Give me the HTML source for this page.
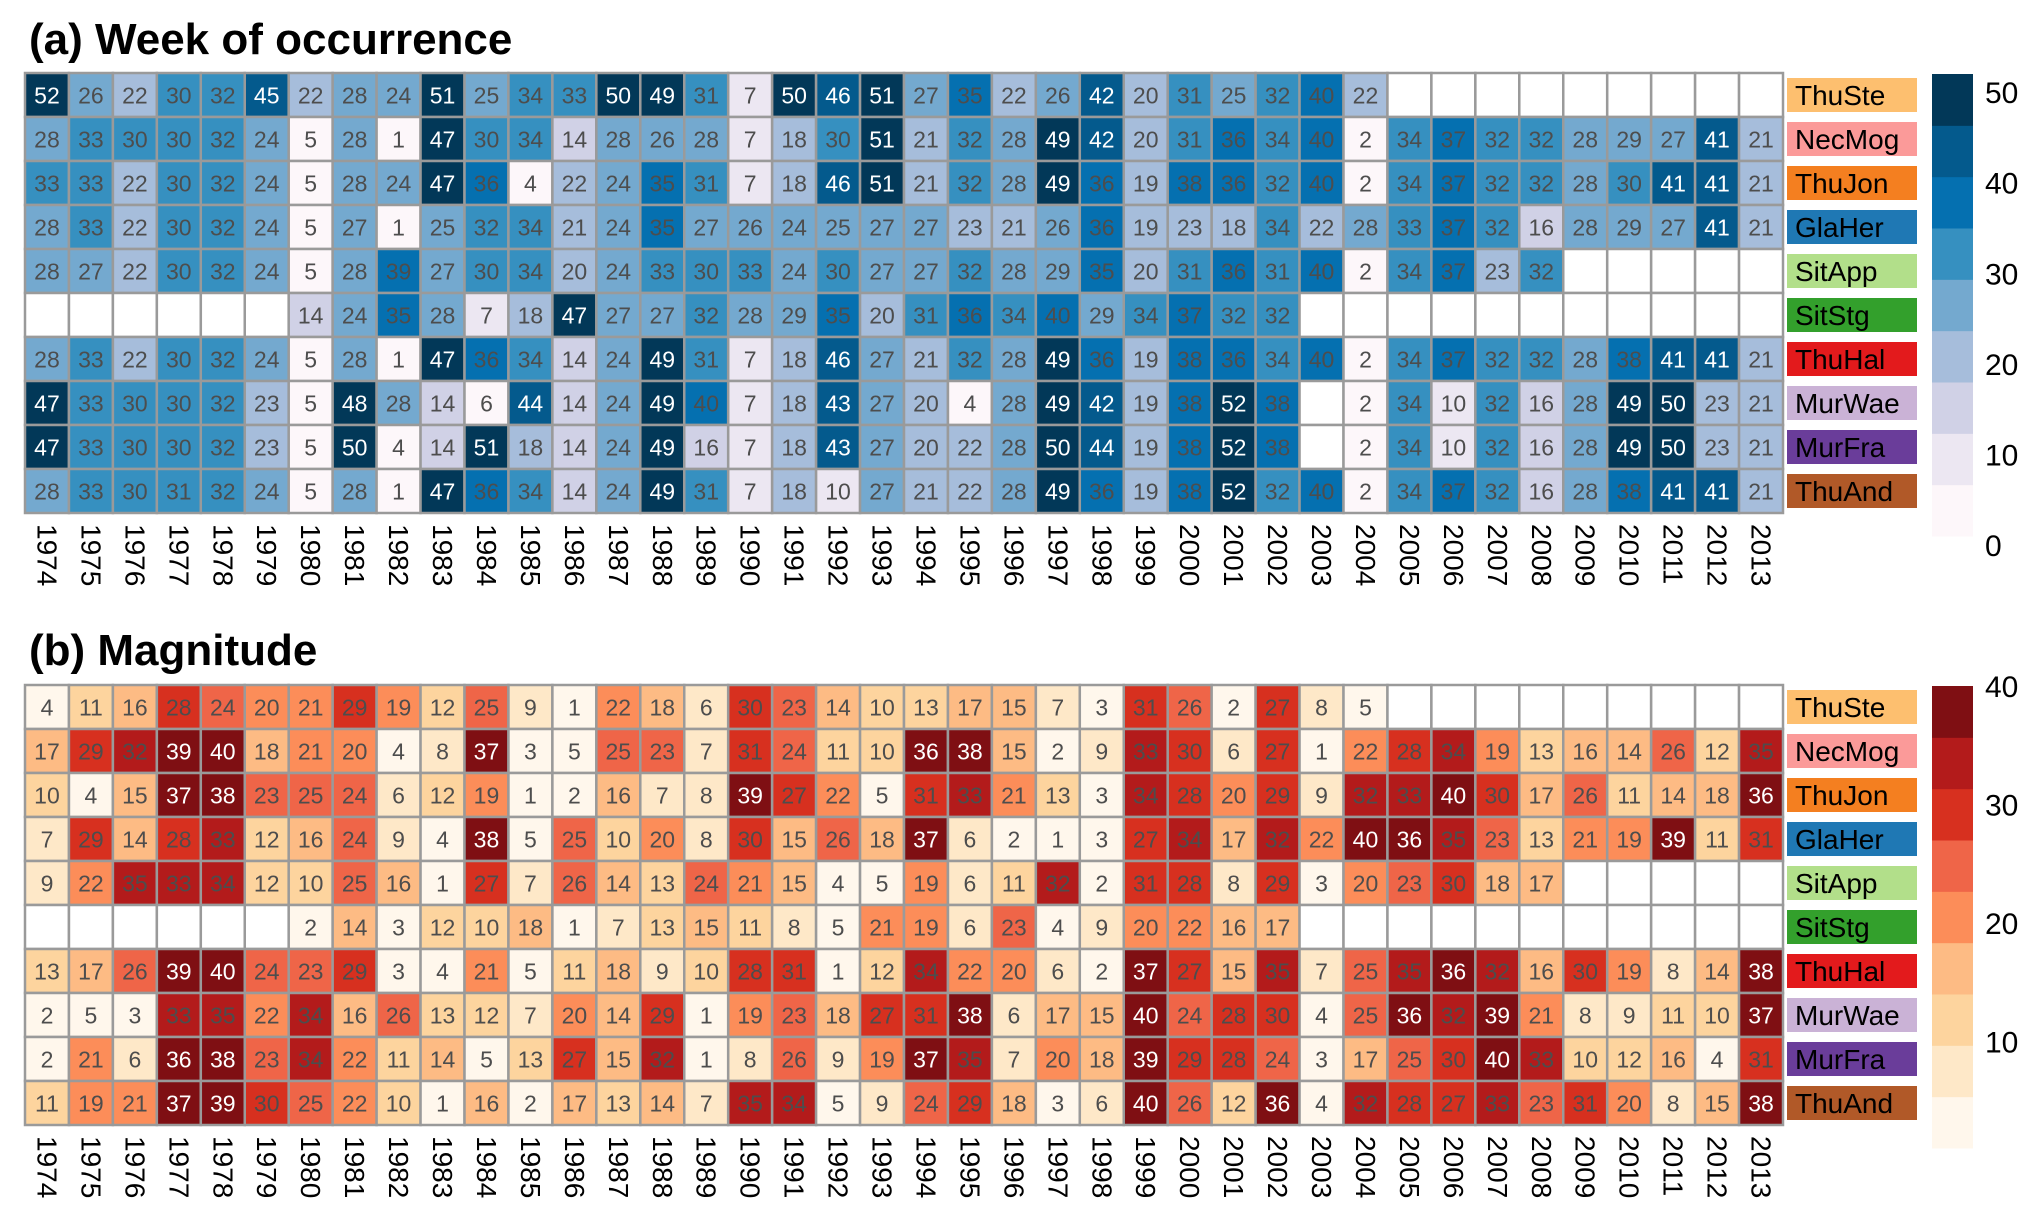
<!DOCTYPE html>
<html><head><meta charset="utf-8"><style>
html,body{margin:0;padding:0;background:#fff;}
svg{display:block;font-family:"Liberation Sans",Arial,sans-serif;}
</style></head><body>
<svg id="chart" width="2033" height="1228" viewBox="0 0 2033 1228" xmlns="http://www.w3.org/2000/svg">
<text x="29" y="54" font-size="44" font-weight="bold">(a) Week of occurrence</text>
<text x="29" y="665" font-size="44" font-weight="bold">(b) Magnitude</text>
</svg>
<script>
const years = [];
for (let y = 1974; y <= 2013; y++) years.push(y);
const stations = ["ThuSte","NecMog","ThuJon","GlaHer","SitApp","SitStg","ThuHal","MurWae","MurFra","ThuAnd"];
const stationColors = ["#fdbf6f","#fb9a99","#f47f20","#1f78b4","#b2df8a","#33a02c","#e31a1c","#cab2d6","#6a3d9a","#b15928"];
const N = null;
const weekThuSte = [52,26,22,30,32,45,22,28,24,51,25,34,33,50,49,31,7,50,46,51,27,35,22,26,42,20,31,25,32,40,22,N,N,N,N,N,N,N,N,N];
const weekNecMog = [28,33,30,30,32,24,5,28,1,47,30,34,14,28,26,28,7,18,30,51,21,32,28,49,42,20,31,36,34,40,2,34,37,32,32,28,29,27,41,21];
const weekThuJon = [33,33,22,30,32,24,5,28,24,47,36,4,22,24,35,31,7,18,46,51,21,32,28,49,36,19,38,36,32,40,2,34,37,32,32,28,30,41,41,21];
const weekGlaHer = [28,33,22,30,32,24,5,27,1,25,32,34,21,24,35,27,26,24,25,27,27,23,21,26,36,19,23,18,34,22,28,33,37,32,16,28,29,27,41,21];
const weekSitApp = [28,27,22,30,32,24,5,28,39,27,30,34,20,24,33,30,33,24,30,27,27,32,28,29,35,20,31,36,31,40,2,34,37,23,32,N,N,N,N,N];
const weekSitStg = [N,N,N,N,N,N,14,24,35,28,7,18,47,27,27,32,28,29,35,20,31,36,34,40,29,34,37,32,32,N,N,N,N,N,N,N,N,N,N,N];
const weekThuHal = [28,33,22,30,32,24,5,28,1,47,36,34,14,24,49,31,7,18,46,27,21,32,28,49,36,19,38,36,34,40,2,34,37,32,32,28,38,41,41,21];
const weekMurWae = [47,33,30,30,32,23,5,48,28,14,6,44,14,24,49,40,7,18,43,27,20,4,28,49,42,19,38,52,38,N,2,34,10,32,16,28,49,50,23,21];
const weekMurFra = [47,33,30,30,32,23,5,50,4,14,51,18,14,24,49,16,7,18,43,27,20,22,28,50,44,19,38,52,38,N,2,34,10,32,16,28,49,50,23,21];
const weekThuAnd = [28,33,30,31,32,24,5,28,1,47,36,34,14,24,49,31,7,18,10,27,21,22,28,49,36,19,38,52,32,40,2,34,37,32,16,28,38,41,41,21];
const magThuSte = [4,11,16,28,24,20,21,29,19,12,25,9,1,22,18,6,30,23,14,10,13,17,15,7,3,31,26,2,27,8,5,N,N,N,N,N,N,N,N,N];
const magNecMog = [17,29,32,39,40,18,21,20,4,8,37,3,5,25,23,7,31,24,11,10,36,38,15,2,9,33,30,6,27,1,22,28,34,19,13,16,14,26,12,35];
const magThuJon = [10,4,15,37,38,23,25,24,6,12,19,1,2,16,7,8,39,27,22,5,31,33,21,13,3,34,28,20,29,9,32,33,40,30,17,26,11,14,18,36];
const magGlaHer = [7,29,14,28,33,12,16,24,9,4,38,5,25,10,20,8,30,15,26,18,37,6,2,1,3,27,34,17,32,22,40,36,35,23,13,21,19,39,11,31];
const magSitApp = [9,22,35,33,34,12,10,25,16,1,27,7,26,14,13,24,21,15,4,5,19,6,11,32,2,31,28,8,29,3,20,23,30,18,17,N,N,N,N,N];
const magSitStg = [N,N,N,N,N,N,2,14,3,12,10,18,1,7,13,15,11,8,5,21,19,6,23,4,9,20,22,16,17,N,N,N,N,N,N,N,N,N,N,N];
const magThuHal = [13,17,26,39,40,24,23,29,3,4,21,5,11,18,9,10,28,31,1,12,34,22,20,6,2,37,27,15,35,7,25,35,36,32,16,30,19,8,14,38];
const magMurWae = [2,5,3,33,35,22,34,16,26,13,12,7,20,14,29,1,19,23,18,27,31,38,6,17,15,40,24,28,30,4,25,36,32,39,21,8,9,11,10,37];
const magMurFra = [2,21,6,36,38,23,34,22,11,14,5,13,27,15,32,1,8,26,9,19,37,35,7,20,18,39,29,28,24,3,17,25,30,40,33,10,12,16,4,31];
const magThuAnd = [11,19,21,37,39,30,25,22,10,1,16,2,17,13,14,7,35,34,5,9,24,29,18,3,6,40,26,12,36,4,32,28,27,33,23,31,20,8,15,38];
const weekTicks = [0,10,20,30,40,50];
const magTicks = [10,20,30,40];

const weekData = [weekThuSte,weekNecMog,weekThuJon,weekGlaHer,weekSitApp,weekSitStg,weekThuHal,weekMurWae,weekMurFra,weekThuAnd];
const magData = [magThuSte,magNecMog,magThuJon,magGlaHer,magSitApp,magSitStg,magThuHal,magMurWae,magMurFra,magThuAnd];
const PuBu = ["#fdf7fa","#ece7f2","#d0d1e6","#a6bddb","#74a9cf","#3690c0","#0570b0","#045a8d","#023858"];
const OrRd = ["#fff7ec","#fee8c8","#fdd49e","#fdbb84","#fc8d59","#ef6548","#d7301f","#b31b1b","#7f0f13"];

const svg = document.getElementById('chart');
const NS = "http://www.w3.org/2000/svg";
function mk(tag, attrs, parent) {
  const e = document.createElementNS(NS, tag);
  for (const k in attrs) e.setAttribute(k, attrs[k]);
  (parent || svg).appendChild(e);
  return e;
}
const left = 25, cell = 43.95;
function xPos(i) { return left + i * cell; }

function panel(data, top, pal, vmin, vmax, whiteBin, ticks, prefix) {
  const g = mk('g', {});
  
  
  const binW = (vmax - vmin) / pal.length;
  function bin(v) { return Math.max(0, Math.min(pal.length - 1, Math.floor((v - vmin) / binW))); }
  function yPos(r) { return top + r * 44; }
  data.forEach((row, r) => {
    row.forEach((v, c) => {
      const rect = mk('rect', {x: xPos(c), y: yPos(r), width: cell, height: 44,
        fill: v === null ? '#ffffff' : pal[bin(v)], stroke: '#9a9a9a', 'stroke-width': 2.5}, g);
      
      
      if (v !== null) {
        const t = mk('text', {x: xPos(c) + cell / 2, y: yPos(r) + 30.5, 'font-size': 23, 'text-anchor': 'middle',
          fill: bin(v) >= whiteBin ? '#ffffff' : '#4d4d4d'}, g);
        t.textContent = v;
        
        
      }
    });
  });
  stations.forEach((s, r) => {
    const lr = mk('rect', {x: 1787, y: yPos(r) + 5, width: 130, height: 34, fill: stationColors[r]});
    
    
    const lt = mk('text', {x: 1795, y: yPos(r) + 32, 'font-size': 28, fill: '#000'});
    lt.textContent = s;
    
    
  });
  years.forEach((yr, c) => {
    const cx = xPos(c) + cell / 2;
    const ty = top + 440 + 11;
    const t = mk('text', {x: cx, y: ty, 'font-size': 28, fill: '#000', 'dominant-baseline': 'central',
      transform: 'rotate(90 ' + cx + ' ' + ty + ')'});
    t.textContent = yr;
    
    
  });
  const cbTop = top + 1, cbH = 462, cbX = 1932, cbW = 41;
  const cbScale = v => cbTop + cbH - (v - vmin) / (vmax - vmin) * cbH;
  pal.forEach((col, i) => {
    const y0 = cbScale(vmin + (i + 1) * binW), y1 = cbScale(vmin + i * binW);
    const b = mk('rect', {x: cbX, y: y0, width: cbW, height: y1 - y0 + 0.5, fill: col});
    
    
  });
  ticks.forEach(tv => {
    const t = mk('text', {x: 1985, y: cbScale(tv) + 11, 'font-size': 30, fill: '#000'});
    t.textContent = tv;
    
    
  });
}
panel(weekData, 73, PuBu, 1, 52, 7, weekTicks, 'week');
panel(magData, 685, OrRd, 1, 40, 8, magTicks, 'magnitude');
</script>
</body></html>
